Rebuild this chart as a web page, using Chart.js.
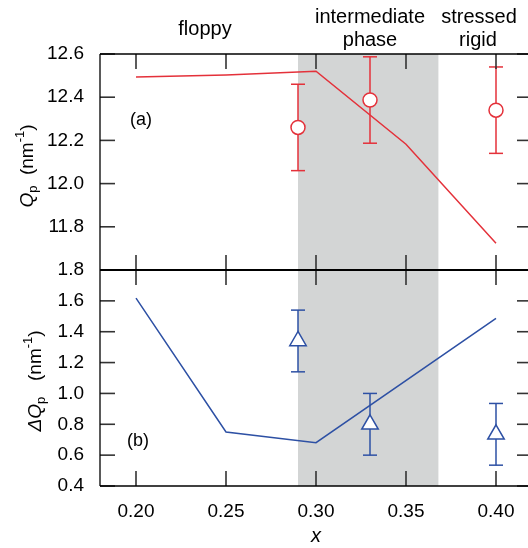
<!DOCTYPE html>
<html>
<head>
<meta charset="utf-8">
<script src="https://cdn.jsdelivr.net/npm/chart.js@4"></script>
<style>
  html, body { margin: 0; padding: 0; overflow: hidden; background: #fff; }
  #wrap { width: 534px; height: 548px; position: relative; }
</style>
</head>
<body>
<div id="wrap"><canvas id="myChart"></canvas></div>
<script>
// x positions / tick values
const xTicks = [0.20, 0.25, 0.30, 0.35, 0.40];
const qpTicks = [11.8, 12.0, 12.2, 12.4, 12.6];
const dqTicks = [0.4, 0.6, 0.8, 1.0, 1.2, 1.4, 1.6, 1.8];

// (a) calculated peak position (line) and measured points
const lineX = [0.20, 0.25, 0.30, 0.35, 0.40];
const qpLine = [12.494, 12.503, 12.52, 12.182, 11.724];
const measX = [0.29, 0.33, 0.40];
const qpMeas = [12.26, 12.387, 12.34];
const qpErr = [0.2, 0.2, 0.2];

// (b) peak width
const dqLineX = [0.20, 0.25, 0.30, 0.40];
const dqLine = [1.618, 0.75, 0.681, 1.486];
const dqMeas = [1.34, 0.80, 0.735];
const dqErr = [0.2, 0.2, 0.2];

// intermediate phase window
const phaseBand = [0.29, 0.368];

const RED = "#e4313a";
const BLUE = "#2d50a4";
const FONT = "'Liberation Sans', Arial, Helvetica, sans-serif";

const pts = (xs, ys) => xs.map((x, i) => ({ x: x, y: ys[i] }));

function seg(ctx, x0, y0, x1, y1) {
  ctx.beginPath();
  ctx.moveTo(x0, y0);
  ctx.lineTo(x1, y1);
  ctx.stroke();
}

// grey band behind everything + error bars
const backdrop = {
  id: "backdrop",
  beforeDatasetsDraw(chart) {
    const ctx = chart.ctx;
    const area = chart.chartArea;
    const sx = chart.scales.x;
    ctx.save();
    ctx.fillStyle = "#d3d5d5";
    const x0 = sx.getPixelForValue(phaseBand[0]);
    const x1 = sx.getPixelForValue(phaseBand[1]);
    ctx.fillRect(x0, area.top, x1 - x0, area.bottom - area.top);

    const bars = [
      { ys: qpMeas, err: qpErr, scale: chart.scales.yA, color: RED },
      { ys: dqMeas, err: dqErr, scale: chart.scales.yB, color: BLUE },
    ];
    ctx.lineWidth = 1.5;
    for (const b of bars) {
      ctx.strokeStyle = b.color;
      measX.forEach((mx, i) => {
        const px = sx.getPixelForValue(mx);
        const top = b.scale.getPixelForValue(b.ys[i] + b.err[i]);
        const bot = b.scale.getPixelForValue(b.ys[i] - b.err[i]);
        seg(ctx, px, top, px, bot);
        seg(ctx, px - 7, top, px + 7, top);
        seg(ctx, px - 7, bot, px + 7, bot);
      });
    }
    ctx.restore();
  },
};

// draws a run of text pieces (italic, sub/superscript) centred on x
function richText(ctx, parts, x, y) {
  let w = 0;
  for (const p of parts) {
    ctx.font = p.font;
    w += ctx.measureText(p.t).width;
  }
  let cx = x - w / 2;
  for (const p of parts) {
    ctx.font = p.font;
    ctx.fillText(p.t, cx, y + (p.dy || 0));
    cx += ctx.measureText(p.t).width;
  }
}

const frame = {
  id: "frame",
  afterDraw(chart) {
    const ctx = chart.ctx;
    const area = chart.chartArea;
    const sx = chart.scales.x;
    const yA = chart.scales.yA;
    const yB = chart.scales.yB;
    const L = area.left, R = area.right;
    ctx.save();

    // inward ticks on all sides of both panels
    ctx.strokeStyle = "#333";
    ctx.lineWidth = 1.6;
    for (const p of [{ s: yA, t: qpTicks }, { s: yB, t: dqTicks }]) {
      for (const v of xTicks) {
        const px = sx.getPixelForValue(v);
        seg(ctx, px, p.s.top, px, p.s.top + 15);
        seg(ctx, px, p.s.bottom, px, p.s.bottom - 15);
      }
      for (const v of p.t) {
        const py = p.s.getPixelForValue(v);
        seg(ctx, L, py, L + 15, py);
        seg(ctx, R, py, R - 15, py);
      }
    }

    // frame
    ctx.strokeStyle = "#000";
    ctx.lineWidth = 1.3;
    seg(ctx, L, area.top, R, area.top);
    seg(ctx, L, area.top, L, area.bottom);
    seg(ctx, L, area.bottom, R, area.bottom);
    seg(ctx, R, area.top, R, area.bottom);
    ctx.lineWidth = 1.8;
    seg(ctx, L, yA.bottom, R, yA.bottom);

    // texts
    ctx.fillStyle = "#000";
    ctx.textBaseline = "alphabetic";
    ctx.textAlign = "center";
    ctx.font = "20px " + FONT;
    ctx.fillText("floppy", 205, 35);
    ctx.fillText("intermediate", 370, 23);
    ctx.fillText("phase", 370, 46);
    ctx.fillText("stressed", 479, 23);
    ctx.fillText("rigid", 478, 46);

    ctx.font = "18px " + FONT;
    ctx.fillText("(a)", 141, 125);
    ctx.fillText("(b)", 138, 446);

    ctx.font = "italic 20px " + FONT;
    ctx.fillText("x", 316, 542);

    ctx.textAlign = "left";
    const big = "19px " + FONT, ital = "italic 19px " + FONT, small = "13px " + FONT;
    ctx.save();
    ctx.translate(33, (yA.top + yA.bottom) / 2 + 4);
    ctx.rotate(-Math.PI / 2);
    richText(ctx, [
      { t: "Q", font: ital },
      { t: "p", font: small, dy: 4 },
      { t: "  (nm", font: big },
      { t: "-1", font: small, dy: -9 },
      { t: ")", font: big },
    ], 0, 0);
    ctx.restore();

    ctx.save();
    ctx.translate(41, (yB.top + yB.bottom) / 2 + 3);
    ctx.rotate(-Math.PI / 2);
    richText(ctx, [
      { t: "\u0394Q", font: ital },
      { t: "p", font: small, dy: 4 },
      { t: "   (nm", font: big },
      { t: "-1", font: small, dy: -9 },
      { t: ")", font: big },
    ], 0, 0);
    ctx.restore();

    ctx.restore();
  },
};

const yCommon = (lo, hi, ticks) => ({
  type: "linear",
  position: "left",
  stack: "panels",
  stackWeight: 1,
  min: lo,
  max: hi,
  grid: { display: false },
  border: { display: false },
  afterBuildTicks: (s) => { s.ticks = ticks.map((v) => ({ value: v })); },
  afterFit: (s) => { s.width = 100; },
  ticks: {
    autoSkip: false,
    padding: 8,
    color: "#000",
    font: { family: FONT, size: 19 },
    callback: (v) => Number(v).toFixed(1),
  },
});

new Chart(document.getElementById("myChart"), {
  type: "line",
  data: {
    datasets: [
      {
        data: pts(lineX, qpLine),
        yAxisID: "yA",
        borderColor: RED,
        borderWidth: 1.5,
        pointRadius: 0,
      },
      {
        data: pts(measX, qpMeas),
        yAxisID: "yA",
        showLine: false,
        pointStyle: "circle",
        pointRadius: 7,
        borderColor: RED,
        backgroundColor: "#fff",
        borderWidth: 1.5,
      },
      {
        data: pts(dqLineX, dqLine),
        yAxisID: "yB",
        borderColor: BLUE,
        borderWidth: 1.5,
        pointRadius: 0,
      },
      {
        data: pts(measX, dqMeas),
        yAxisID: "yB",
        showLine: false,
        pointStyle: "triangle",
        pointRadius: 9.5,
        borderColor: BLUE,
        backgroundColor: "#fff",
        borderWidth: 1.5,
      },
    ],
  },
  options: {
    responsive: true,
    maintainAspectRatio: false,
    animation: false,
    events: [],
    layout: { autoPadding: false, padding: { top: 54, left: 0, right: 2, bottom: 0 } },
    plugins: { legend: { display: false }, tooltip: { enabled: false } },
    scales: {
      x: {
        type: "linear",
        min: 0.18,
        max: 0.42,
        grid: { display: false },
        border: { display: false },
        afterBuildTicks: (s) => { s.ticks = xTicks.map((v) => ({ value: v })); },
        afterFit: (s) => { s.height = 62; s.paddingLeft = 0; s.paddingRight = 0; },
        ticks: {
          autoSkip: false,
          maxRotation: 0,
          padding: 6,
          color: "#000",
          font: { family: FONT, size: 19 },
          callback: (v) => Number(v).toFixed(2),
        },
      },
      yB: yCommon(0.4, 1.8, dqTicks),
      yA: yCommon(11.6, 12.6, qpTicks),
    },
  },
  plugins: [backdrop, frame],
});
</script>
</body>
</html>
